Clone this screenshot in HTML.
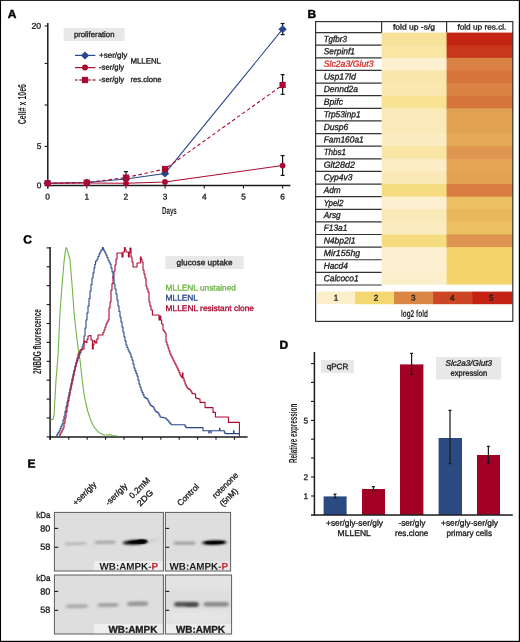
<!DOCTYPE html>
<html lang="en">
<head>
<meta charset="utf-8">
<title>Figure</title>
<style>
html,body{margin:0;padding:0;background:#fff;}
body{width:520px;height:642px;overflow:hidden;}
svg{display:block;font-family:'Liberation Sans', sans-serif;fill:#1c1c1c;}
svg text{font-family:'Liberation Sans', sans-serif;}
svg text.cn{stroke:#1c1c1c;stroke-width:0px;}
svg text.pl{stroke:#000;stroke-width:0.45px;stroke-linejoin:round;}
</style>
</head>
<body>
<svg width="520" height="642" viewBox="0 0 520 642">
<rect x="0" y="0" width="520" height="642" fill="#ffffff" />
<rect x="0" y="0" width="520" height="0.85" fill="#000" />
<rect x="0" y="0" width="1.05" height="642" fill="#000" />
<rect x="518.8" y="0" width="1.2" height="642" fill="#000" />
<rect x="0" y="640.8" width="520" height="1.2" fill="#000" />
<text x="7.7" y="18.1" font-size="11.8" fill="#000" font-weight="bold" textLength="8.66" lengthAdjust="spacingAndGlyphs" transform="rotate(0.03 7.7 18.1)" class="pl">A</text>
<text x="307.5" y="18.1" font-size="11.8" fill="#000" font-weight="bold" textLength="8.66" lengthAdjust="spacingAndGlyphs" transform="rotate(0.03 307.5 18.1)" class="pl">B</text>
<text x="23.3" y="243.6" font-size="11.8" fill="#000" font-weight="bold" textLength="8.66" lengthAdjust="spacingAndGlyphs" transform="rotate(0.03 23.3 243.6)" class="pl">C</text>
<text x="279.4" y="348.8" font-size="11.8" fill="#000" font-weight="bold" textLength="8.66" lengthAdjust="spacingAndGlyphs" transform="rotate(0.03 279.4 348.8)" class="pl">D</text>
<text x="27.6" y="467.5" font-size="11.8" fill="#000" font-weight="bold" textLength="8.0" lengthAdjust="spacingAndGlyphs" transform="rotate(0.03 27.6 467.5)" class="pl">E</text>
<g id="panelA">
<line x1="47.800000000000004" y1="23" x2="47.800000000000004" y2="188.8" stroke="#1a1a1a" stroke-width="1.5" />
<line x1="47.0" y1="185.6" x2="290.4" y2="185.6" stroke="#1a1a1a" stroke-width="1.5" />
<line x1="44.6" y1="26" x2="47.6" y2="26" stroke="#1a1a1a" stroke-width="1.1" />
<line x1="44.6" y1="63.4" x2="47.6" y2="63.4" stroke="#1a1a1a" stroke-width="1.1" />
<line x1="44.6" y1="105" x2="47.6" y2="105" stroke="#1a1a1a" stroke-width="1.1" />
<line x1="44.6" y1="146.4" x2="47.6" y2="146.4" stroke="#1a1a1a" stroke-width="1.1" />
<text x="47.6" y="199.4" font-size="8.3" text-anchor="middle" transform="rotate(0.03 47.6 199.4)" stroke="#1c1c1c" stroke-width="0.32">0</text>
<line x1="86.77" y1="185.6" x2="86.77" y2="188.6" stroke="#1a1a1a" stroke-width="1.1" />
<text x="86.8" y="199.4" font-size="8.3" text-anchor="middle" transform="rotate(0.03 86.8 199.4)" stroke="#1c1c1c" stroke-width="0.32">1</text>
<line x1="125.94" y1="185.6" x2="125.94" y2="188.6" stroke="#1a1a1a" stroke-width="1.1" />
<text x="125.9" y="199.4" font-size="8.3" text-anchor="middle" transform="rotate(0.03 125.9 199.4)" stroke="#1c1c1c" stroke-width="0.32">2</text>
<line x1="165.11" y1="185.6" x2="165.11" y2="188.6" stroke="#1a1a1a" stroke-width="1.1" />
<text x="165.1" y="199.4" font-size="8.3" text-anchor="middle" transform="rotate(0.03 165.1 199.4)" stroke="#1c1c1c" stroke-width="0.32">3</text>
<line x1="204.28" y1="185.6" x2="204.28" y2="188.6" stroke="#1a1a1a" stroke-width="1.1" />
<text x="204.3" y="199.4" font-size="8.3" text-anchor="middle" transform="rotate(0.03 204.3 199.4)" stroke="#1c1c1c" stroke-width="0.32">4</text>
<line x1="243.45" y1="185.6" x2="243.45" y2="188.6" stroke="#1a1a1a" stroke-width="1.1" />
<text x="243.5" y="199.4" font-size="8.3" text-anchor="middle" transform="rotate(0.03 243.5 199.4)" stroke="#1c1c1c" stroke-width="0.32">5</text>
<line x1="282.62" y1="185.6" x2="282.62" y2="188.6" stroke="#1a1a1a" stroke-width="1.1" />
<text x="282.6" y="199.4" font-size="8.3" text-anchor="middle" transform="rotate(0.03 282.6 199.4)" stroke="#1c1c1c" stroke-width="0.32">6</text>
<text x="41.2" y="28.7" font-size="8.3" text-anchor="end" textLength="9.7" lengthAdjust="spacingAndGlyphs" transform="rotate(0.03 41.2 28.7)" stroke="#1c1c1c" stroke-width="0.32">20</text>
<text x="41.4" y="149.1" font-size="8.3" text-anchor="end" transform="rotate(0.03 41.4 149.1)" stroke="#1c1c1c" stroke-width="0.32">5</text>
<text x="41.4" y="188.2" font-size="8.3" text-anchor="end" transform="rotate(0.03 41.4 188.2)" stroke="#1c1c1c" stroke-width="0.32">0</text>
<text x="25.9" y="104.1" font-size="10.1" text-anchor="middle" font-weight="bold" textLength="40.2" lengthAdjust="spacingAndGlyphs" transform="rotate(-90 25.9 104.1)" class="cn">Cell# x 10e6</text>
<text x="169.4" y="213.9" font-size="10.1" text-anchor="middle" font-weight="bold" textLength="14.9" lengthAdjust="spacingAndGlyphs" transform="rotate(0.03 169.4 213.9)" class="cn">Days</text>
<rect x="63.6" y="28" width="61" height="13" fill="#e8e8e8" />
<text x="94.2" y="37.0" font-size="7.8" text-anchor="middle" textLength="40.6" lengthAdjust="spacingAndGlyphs" transform="rotate(0.03 94.2 37.0)" stroke="#1c1c1c" stroke-width="0.32">proliferation</text>
<line x1="75" y1="55.4" x2="95.4" y2="55.4" stroke="#27478a" stroke-width="1.2" />
<path d="M85 51.4 L89.2 55.4 L85 59.4 L80.8 55.4Z" fill="#27478a"/>
<line x1="75" y1="67.6" x2="95.4" y2="67.6" stroke="#ab0a30" stroke-width="1.2" />
<circle cx="85" cy="67.6" r="3" fill="#ab0a30"/>
<line x1="75" y1="80" x2="77.7" y2="80" stroke="#ab0a30" stroke-width="1.2" />
<line x1="79.2" y1="80" x2="82.2" y2="80" stroke="#ab0a30" stroke-width="1.2" />
<line x1="88" y1="80" x2="90.8" y2="80" stroke="#ab0a30" stroke-width="1.2" />
<line x1="92.3" y1="80" x2="95.6" y2="80" stroke="#ab0a30" stroke-width="1.2" />
<rect x="81.9" y="76.9" width="6.2" height="6.2" fill="#ab0a30" />
<text x="99" y="57.7" font-size="7.8" textLength="28.4" lengthAdjust="spacingAndGlyphs" transform="rotate(0.03 99 57.7)" stroke="#1c1c1c" stroke-width="0.32">+ser/gly</text>
<text x="99" y="69.8" font-size="7.8" textLength="25.2" lengthAdjust="spacingAndGlyphs" transform="rotate(0.03 99 69.8)" stroke="#1c1c1c" stroke-width="0.32">-ser/gly</text>
<text x="99" y="82.1" font-size="7.8" textLength="25.2" lengthAdjust="spacingAndGlyphs" transform="rotate(0.03 99 82.1)" stroke="#1c1c1c" stroke-width="0.32">-ser/gly</text>
<text x="130.4" y="63.5" font-size="7.8" textLength="30.6" lengthAdjust="spacingAndGlyphs" transform="rotate(0.03 130.4 63.5)" stroke="#1c1c1c" stroke-width="0.32">MLLENL</text>
<text x="130.4" y="82.1" font-size="7.8" textLength="31" lengthAdjust="spacingAndGlyphs" transform="rotate(0.03 130.4 82.1)" stroke="#1c1c1c" stroke-width="0.32">res.clone</text>
<line x1="126" y1="171.6" x2="126" y2="177.6" stroke="#1a1a1a" stroke-width="1.25" />
<line x1="124.0" y1="171.6" x2="128.0" y2="171.6" stroke="#1a1a1a" stroke-width="1.25" />
<line x1="124.0" y1="177.6" x2="128.0" y2="177.6" stroke="#1a1a1a" stroke-width="1.25" />
<line x1="282.6" y1="23.5" x2="282.6" y2="34.6" stroke="#1a1a1a" stroke-width="1.25" />
<line x1="280.6" y1="23.5" x2="284.6" y2="23.5" stroke="#1a1a1a" stroke-width="1.25" />
<line x1="280.6" y1="34.6" x2="284.6" y2="34.6" stroke="#1a1a1a" stroke-width="1.25" />
<line x1="282.6" y1="74.6" x2="282.6" y2="94.4" stroke="#1a1a1a" stroke-width="1.25" />
<line x1="280.6" y1="74.6" x2="284.6" y2="74.6" stroke="#1a1a1a" stroke-width="1.25" />
<line x1="280.6" y1="94.4" x2="284.6" y2="94.4" stroke="#1a1a1a" stroke-width="1.25" />
<line x1="282.6" y1="155.6" x2="282.6" y2="175.4" stroke="#1a1a1a" stroke-width="1.25" />
<line x1="280.6" y1="155.6" x2="284.6" y2="155.6" stroke="#1a1a1a" stroke-width="1.25" />
<line x1="280.6" y1="175.4" x2="284.6" y2="175.4" stroke="#1a1a1a" stroke-width="1.25" />
<polyline points="47.6,183.2 86.8,182.6 126,179 165,173.4 282.6,29.2" fill="none" stroke="#27478a" stroke-width="1.05"/>
<polyline points="47.6,183.2 86.8,182.9 126,183.3 165,182 282.6,165.6" fill="none" stroke="#ab0a30" stroke-width="1.05"/>
<polyline points="47.6,183.2 86.8,182.6 126,177.6 165,169 282.6,85" fill="none" stroke="#ab0a30" stroke-width="1.1" stroke-dasharray="3.5 2.6"/>
<path d="M47.6 179.2 L51.8 183.2 L47.6 187.2 L43.4 183.2Z" fill="#27478a"/>
<path d="M86.8 178.6 L91.0 182.6 L86.8 186.6 L82.6 182.6Z" fill="#27478a"/>
<path d="M126 175.0 L130.2 179 L126 183.0 L121.8 179Z" fill="#27478a"/>
<path d="M165 169.4 L169.2 173.4 L165 177.4 L160.8 173.4Z" fill="#27478a"/>
<path d="M282.6 25.2 L286.8 29.2 L282.6 33.2 L278.4 29.2Z" fill="#27478a"/>
<circle cx="47.6" cy="183.2" r="2.9" fill="#ab0a30"/>
<circle cx="86.8" cy="182.9" r="2.9" fill="#ab0a30"/>
<circle cx="126" cy="183.3" r="2.9" fill="#ab0a30"/>
<circle cx="165" cy="182" r="2.9" fill="#ab0a30"/>
<circle cx="282.6" cy="165.6" r="2.9" fill="#ab0a30"/>
<rect x="44.5" y="180.1" width="6.2" height="6.2" fill="#ab0a30" />
<rect x="83.7" y="179.5" width="6.2" height="6.2" fill="#ab0a30" />
<rect x="122.9" y="174.5" width="6.2" height="6.2" fill="#ab0a30" />
<rect x="161.9" y="165.9" width="6.2" height="6.2" fill="#ab0a30" />
<rect x="279.5" y="81.9" width="6.2" height="6.2" fill="#ab0a30" />
</g>
<g id="panelB">
<rect x="381.6" y="32.6" width="65.5" height="13.62" fill="#f8e29a" />
<rect x="381.6" y="45.22" width="65.5" height="13.62" fill="#f9e5a4" />
<rect x="381.6" y="57.84" width="65.5" height="13.62" fill="#fcf0d0" />
<rect x="381.6" y="70.46" width="65.5" height="13.62" fill="#f9e6aa" />
<rect x="381.6" y="83.08" width="65.5" height="13.62" fill="#fae8b0" />
<rect x="381.6" y="95.7" width="65.5" height="13.62" fill="#f8e294" />
<rect x="381.6" y="108.32" width="65.5" height="13.62" fill="#faeaba" />
<rect x="381.6" y="120.94" width="65.5" height="13.62" fill="#faeaba" />
<rect x="381.6" y="133.56" width="65.5" height="13.62" fill="#fbecc2" />
<rect x="381.6" y="146.18" width="65.5" height="13.62" fill="#f9e5a4" />
<rect x="381.6" y="158.8" width="65.5" height="13.62" fill="#fbedc6" />
<rect x="381.6" y="171.42" width="65.5" height="13.62" fill="#fae9b6" />
<rect x="381.6" y="184.04" width="65.5" height="13.62" fill="#f6dc80" />
<rect x="381.6" y="196.66" width="65.5" height="13.62" fill="#fcf0d0" />
<rect x="381.6" y="209.28" width="65.5" height="13.62" fill="#fae9b8" />
<rect x="381.6" y="221.9" width="65.5" height="13.62" fill="#fbecc0" />
<rect x="381.6" y="234.52" width="65.5" height="13.62" fill="#f6dc80" />
<rect x="381.6" y="247.14" width="65.5" height="13.62" fill="#fcf0d0" />
<rect x="381.6" y="259.76" width="65.5" height="13.62" fill="#fcf0d0" />
<rect x="381.6" y="272.38" width="65.5" height="12.22" fill="#fcefcc" />
<rect x="446.6" y="32.6" width="66.2" height="13.62" fill="#c42414" />
<rect x="446.6" y="45.22" width="66.2" height="13.62" fill="#c8371c" />
<rect x="446.6" y="57.84" width="66.2" height="13.62" fill="#da8244" />
<rect x="446.6" y="70.46" width="66.2" height="13.62" fill="#d6743c" />
<rect x="446.6" y="83.08" width="66.2" height="13.62" fill="#da8444" />
<rect x="446.6" y="95.7" width="66.2" height="13.62" fill="#d6753c" />
<rect x="446.6" y="108.32" width="66.2" height="13.62" fill="#e2a254" />
<rect x="446.6" y="120.94" width="66.2" height="13.62" fill="#e2a254" />
<rect x="446.6" y="133.56" width="66.2" height="13.62" fill="#e4aa58" />
<rect x="446.6" y="146.18" width="66.2" height="13.62" fill="#de9650" />
<rect x="446.6" y="158.8" width="66.2" height="13.62" fill="#e4a656" />
<rect x="446.6" y="171.42" width="66.2" height="13.62" fill="#e2a254" />
<rect x="446.6" y="184.04" width="66.2" height="13.62" fill="#d87e42" />
<rect x="446.6" y="196.66" width="66.2" height="13.62" fill="#ecc060" />
<rect x="446.6" y="209.28" width="66.2" height="13.62" fill="#e8b85c" />
<rect x="446.6" y="221.9" width="66.2" height="13.62" fill="#ecc060" />
<rect x="446.6" y="234.52" width="66.2" height="13.62" fill="#de9450" />
<rect x="446.6" y="247.14" width="66.2" height="13.62" fill="#f4d46a" />
<rect x="446.6" y="259.76" width="66.2" height="13.62" fill="#f4d46a" />
<rect x="446.6" y="272.38" width="66.2" height="12.22" fill="#f4d56c" />
<rect x="317" y="291.6" width="38.8" height="12.6" fill="#fbeec8" />
<text x="336" y="300.4" font-size="8.2" text-anchor="middle" transform="rotate(0.03 336 300.4)" stroke="#1c1c1c" stroke-width="0.32">1</text>
<rect x="355" y="291.6" width="39.8" height="12.6" fill="#f5d770" />
<text x="376" y="300.4" font-size="8.2" text-anchor="middle" transform="rotate(0.03 376 300.4)" stroke="#1c1c1c" stroke-width="0.32">2</text>
<rect x="394" y="291.6" width="40.0" height="12.6" fill="#da8746" />
<text x="413.4" y="300.4" font-size="8.2" text-anchor="middle" transform="rotate(0.03 413.4 300.4)" stroke="#1c1c1c" stroke-width="0.32">3</text>
<rect x="433.2" y="291.6" width="40.0" height="12.6" fill="#cc4524" />
<text x="452.3" y="300.4" font-size="8.2" text-anchor="middle" transform="rotate(0.03 452.3 300.4)" stroke="#1c1c1c" stroke-width="0.32">4</text>
<rect x="472.4" y="291.6" width="40.0" height="12.6" fill="#c42314" />
<text x="491.4" y="300.4" font-size="8.2" text-anchor="middle" transform="rotate(0.03 491.4 300.4)" stroke="#1c1c1c" stroke-width="0.32">5</text>
<text x="414.4" y="317.0" font-size="10.1" text-anchor="middle" font-weight="bold" textLength="27" lengthAdjust="spacingAndGlyphs" transform="rotate(0.03 414.4 317.0)" class="cn">log2 fold</text>
<rect x="315.6" y="21.6" width="197.2" height="299.8" fill="none" stroke="#333333" stroke-width="1.2"/>
<line x1="315.6" y1="32.6" x2="381.6" y2="32.6" stroke="#333333" stroke-width="1.2" />
<line x1="381.6" y1="21.6" x2="381.6" y2="32.6" stroke="#333333" stroke-width="1.2" />
<line x1="446.6" y1="21.6" x2="446.6" y2="32.6" stroke="#333333" stroke-width="1.2" />
<line x1="315.6" y1="45.22" x2="381.6" y2="45.22" stroke="#333333" stroke-width="1.2" />
<line x1="315.6" y1="57.84" x2="381.6" y2="57.84" stroke="#333333" stroke-width="1.2" />
<line x1="315.6" y1="70.46" x2="381.6" y2="70.46" stroke="#333333" stroke-width="1.2" />
<line x1="315.6" y1="83.08" x2="381.6" y2="83.08" stroke="#333333" stroke-width="1.2" />
<line x1="315.6" y1="95.7" x2="381.6" y2="95.7" stroke="#333333" stroke-width="1.2" />
<line x1="315.6" y1="108.32" x2="381.6" y2="108.32" stroke="#333333" stroke-width="1.2" />
<line x1="315.6" y1="120.94" x2="381.6" y2="120.94" stroke="#333333" stroke-width="1.2" />
<line x1="315.6" y1="133.56" x2="381.6" y2="133.56" stroke="#333333" stroke-width="1.2" />
<line x1="315.6" y1="146.18" x2="381.6" y2="146.18" stroke="#333333" stroke-width="1.2" />
<line x1="315.6" y1="158.8" x2="381.6" y2="158.8" stroke="#333333" stroke-width="1.2" />
<line x1="315.6" y1="171.42" x2="381.6" y2="171.42" stroke="#333333" stroke-width="1.2" />
<line x1="315.6" y1="184.04" x2="381.6" y2="184.04" stroke="#333333" stroke-width="1.2" />
<line x1="315.6" y1="196.66" x2="381.6" y2="196.66" stroke="#333333" stroke-width="1.2" />
<line x1="315.6" y1="209.28" x2="381.6" y2="209.28" stroke="#333333" stroke-width="1.2" />
<line x1="315.6" y1="221.9" x2="381.6" y2="221.9" stroke="#333333" stroke-width="1.2" />
<line x1="315.6" y1="234.52" x2="381.6" y2="234.52" stroke="#333333" stroke-width="1.2" />
<line x1="315.6" y1="247.14" x2="381.6" y2="247.14" stroke="#333333" stroke-width="1.2" />
<line x1="315.6" y1="259.76" x2="381.6" y2="259.76" stroke="#333333" stroke-width="1.2" />
<line x1="315.6" y1="272.38" x2="381.6" y2="272.38" stroke="#333333" stroke-width="1.2" />
<line x1="315.6" y1="285.0" x2="381.6" y2="285.0" stroke="#333333" stroke-width="1.2" />
<text x="323.7" y="41.55" font-size="8.9" font-style="italic" textLength="23.2" lengthAdjust="spacingAndGlyphs" transform="rotate(0.03 323.7 41.55)" stroke="#1c1c1c" stroke-width="0.32">Tgfbr3</text>
<text x="323.7" y="54.17" font-size="8.9" font-style="italic" textLength="31.2" lengthAdjust="spacingAndGlyphs" transform="rotate(0.03 323.7 54.17)" stroke="#1c1c1c" stroke-width="0.32">Serpinf1</text>
<text x="323.7" y="66.79" font-size="8.9" fill="#d4312c" font-style="italic" textLength="49.8" lengthAdjust="spacingAndGlyphs" transform="rotate(0.03 323.7 66.79)" stroke="#d4312c" stroke-width="0.32">Slc2a3/Glut3</text>
<text x="323.7" y="79.41" font-size="8.9" font-style="italic" textLength="32.2" lengthAdjust="spacingAndGlyphs" transform="rotate(0.03 323.7 79.41)" stroke="#1c1c1c" stroke-width="0.32">Usp17ld</text>
<text x="323.7" y="92.03" font-size="8.9" font-style="italic" textLength="34.3" lengthAdjust="spacingAndGlyphs" transform="rotate(0.03 323.7 92.03)" stroke="#1c1c1c" stroke-width="0.32">Dennd2a</text>
<text x="323.7" y="104.65" font-size="8.9" font-style="italic" textLength="19.3" lengthAdjust="spacingAndGlyphs" transform="rotate(0.03 323.7 104.65)" stroke="#1c1c1c" stroke-width="0.32">Bpifc</text>
<text x="323.7" y="117.27" font-size="8.9" font-style="italic" textLength="36.9" lengthAdjust="spacingAndGlyphs" transform="rotate(0.03 323.7 117.27)" stroke="#1c1c1c" stroke-width="0.32">Trp53inp1</text>
<text x="323.7" y="129.89" font-size="8.9" font-style="italic" textLength="24.5" lengthAdjust="spacingAndGlyphs" transform="rotate(0.03 323.7 129.89)" stroke="#1c1c1c" stroke-width="0.32">Dusp6</text>
<text x="323.7" y="142.51" font-size="8.9" font-style="italic" textLength="40" lengthAdjust="spacingAndGlyphs" transform="rotate(0.03 323.7 142.51)" stroke="#1c1c1c" stroke-width="0.32">Fam160a1</text>
<text x="323.7" y="155.13" font-size="8.9" font-style="italic" textLength="22.4" lengthAdjust="spacingAndGlyphs" transform="rotate(0.03 323.7 155.13)" stroke="#1c1c1c" stroke-width="0.32">Thbs1</text>
<text x="323.7" y="167.75" font-size="8.9" font-style="italic" textLength="31.2" lengthAdjust="spacingAndGlyphs" transform="rotate(0.03 323.7 167.75)" stroke="#1c1c1c" stroke-width="0.32">Glt28d2</text>
<text x="323.7" y="180.37" font-size="8.9" font-style="italic" textLength="28.7" lengthAdjust="spacingAndGlyphs" transform="rotate(0.03 323.7 180.37)" stroke="#1c1c1c" stroke-width="0.32">Cyp4v3</text>
<text x="323.7" y="192.99" font-size="8.9" font-style="italic" textLength="17" lengthAdjust="spacingAndGlyphs" transform="rotate(0.03 323.7 192.99)" stroke="#1c1c1c" stroke-width="0.32">Adm</text>
<text x="323.7" y="205.61" font-size="8.9" font-style="italic" textLength="19.8" lengthAdjust="spacingAndGlyphs" transform="rotate(0.03 323.7 205.61)" stroke="#1c1c1c" stroke-width="0.32">Ypel2</text>
<text x="323.7" y="218.23" font-size="8.9" font-style="italic" textLength="17" lengthAdjust="spacingAndGlyphs" transform="rotate(0.03 323.7 218.23)" stroke="#1c1c1c" stroke-width="0.32">Arsg</text>
<text x="323.7" y="230.85" font-size="8.9" font-style="italic" textLength="23.7" lengthAdjust="spacingAndGlyphs" transform="rotate(0.03 323.7 230.85)" stroke="#1c1c1c" stroke-width="0.32">F13a1</text>
<text x="323.7" y="243.47" font-size="8.9" font-style="italic" textLength="31.8" lengthAdjust="spacingAndGlyphs" transform="rotate(0.03 323.7 243.47)" stroke="#1c1c1c" stroke-width="0.32">N4bp2l1</text>
<text x="323.7" y="256.09" font-size="8.9" font-style="italic" textLength="36.4" lengthAdjust="spacingAndGlyphs" transform="rotate(0.03 323.7 256.09)" stroke="#1c1c1c" stroke-width="0.32">Mir155hg</text>
<text x="323.7" y="268.71" font-size="8.9" font-style="italic" textLength="24.1" lengthAdjust="spacingAndGlyphs" transform="rotate(0.03 323.7 268.71)" stroke="#1c1c1c" stroke-width="0.32">Hacd4</text>
<text x="323.7" y="281.33" font-size="8.9" font-style="italic" textLength="34.9" lengthAdjust="spacingAndGlyphs" transform="rotate(0.03 323.7 281.33)" stroke="#1c1c1c" stroke-width="0.32">Calcoco1</text>
<text x="393" y="29.6" font-size="7.6" textLength="42" lengthAdjust="spacingAndGlyphs" transform="rotate(0.03 393 29.6)" stroke="#1c1c1c" stroke-width="0.32">fold up -s/g</text>
<text x="457.4" y="29.6" font-size="7.6" textLength="49" lengthAdjust="spacingAndGlyphs" transform="rotate(0.03 457.4 29.6)" stroke="#1c1c1c" stroke-width="0.32">fold up res.cl.</text>
</g>
<g id="panelC">
<line x1="50.1" y1="247.1" x2="50.1" y2="439.7" stroke="#1a1a1a" stroke-width="1.5" />
<line x1="49.5" y1="436.9" x2="247.6" y2="436.9" stroke="#1a1a1a" stroke-width="1.5" />
<line x1="46.6" y1="247.9" x2="50.1" y2="247.9" stroke="#1a1a1a" stroke-width="1.1" />
<line x1="46.6" y1="266.8" x2="50.1" y2="266.8" stroke="#1a1a1a" stroke-width="1.1" />
<line x1="46.6" y1="285.7" x2="50.1" y2="285.7" stroke="#1a1a1a" stroke-width="1.1" />
<line x1="46.6" y1="304.6" x2="50.1" y2="304.6" stroke="#1a1a1a" stroke-width="1.1" />
<line x1="46.6" y1="323.5" x2="50.1" y2="323.5" stroke="#1a1a1a" stroke-width="1.1" />
<line x1="46.6" y1="342.4" x2="50.1" y2="342.4" stroke="#1a1a1a" stroke-width="1.1" />
<line x1="46.6" y1="361.3" x2="50.1" y2="361.3" stroke="#1a1a1a" stroke-width="1.1" />
<line x1="46.6" y1="380.2" x2="50.1" y2="380.2" stroke="#1a1a1a" stroke-width="1.1" />
<line x1="46.6" y1="399.1" x2="50.1" y2="399.1" stroke="#1a1a1a" stroke-width="1.1" />
<line x1="46.6" y1="418.0" x2="50.1" y2="418.0" stroke="#1a1a1a" stroke-width="1.1" />
<line x1="50.1" y1="436.9" x2="50.1" y2="439.7" stroke="#1a1a1a" stroke-width="1.1" />
<line x1="68.8" y1="436.9" x2="68.8" y2="439.7" stroke="#1a1a1a" stroke-width="1.1" />
<line x1="87.2" y1="436.9" x2="87.2" y2="439.7" stroke="#1a1a1a" stroke-width="1.1" />
<line x1="105.6" y1="436.9" x2="105.6" y2="439.7" stroke="#1a1a1a" stroke-width="1.1" />
<line x1="124.0" y1="436.9" x2="124.0" y2="439.7" stroke="#1a1a1a" stroke-width="1.1" />
<line x1="142.4" y1="436.9" x2="142.4" y2="439.7" stroke="#1a1a1a" stroke-width="1.1" />
<line x1="160.8" y1="436.9" x2="160.8" y2="439.7" stroke="#1a1a1a" stroke-width="1.1" />
<line x1="179.2" y1="436.9" x2="179.2" y2="439.7" stroke="#1a1a1a" stroke-width="1.1" />
<line x1="197.6" y1="436.9" x2="197.6" y2="439.7" stroke="#1a1a1a" stroke-width="1.1" />
<line x1="216.0" y1="436.9" x2="216.0" y2="439.7" stroke="#1a1a1a" stroke-width="1.1" />
<line x1="234.4" y1="436.9" x2="234.4" y2="439.7" stroke="#1a1a1a" stroke-width="1.1" />
<line x1="46.6" y1="436.9" x2="50.1" y2="436.9" stroke="#1a1a1a" stroke-width="1.1" />
<text x="41" y="341.5" font-size="10.1" text-anchor="middle" font-weight="bold" textLength="65" lengthAdjust="spacingAndGlyphs" transform="rotate(-90 41 341.5)" class="cn">2NBDG fluorescence</text>
<polyline points="50.4,419.4 53,419.4 54,416 56,380 58,356 60,312 62,286 64,262 65.6,249 66.4,247.6 68,252 70,260 72,284 74,312 76,331 78,347 80,360 82,378 84,394 86,404 88,412 90,418 92,423 94,427 96,429.4 98,431.6 100,433 102,434 104,435 108,435 110,434.4 112,435.5 117,435.8" fill="none" stroke="#70b546" stroke-width="1.1" stroke-linejoin="round"/>
<polyline points="56,436 57.0,436 57.0,434.33 58.0,434.33 58.0,432.67 59.0,432.67 59.0,431.0 60.0,431.0 60.0,428.67 61.0,428.67 61.0,426.33 62.0,426.33 62.0,424.0 63.0,424.0 63.0,420.0 64.0,420.0 64.0,416.0 65.0,416.0 65.0,411.33 66.0,411.33 66.0,406.67 67.0,406.67 67.0,402.0 68.0,402.0 68.0,397.33 69.0,397.33 69.0,392.67 70.0,392.67 70.0,388.0 71.0,388.0 71.0,383.33 72.0,383.33 72.0,378.67 73.0,378.67 73.0,374.0 74.0,374.0 74.0,370.33 75.0,370.33 75.0,366.67 76.0,366.67 76.0,363.0 77.0,363.0 77.0,360.33 78.0,360.33 78.0,357.67 79.0,357.67 79.0,355.0 80.0,355.0 80.0,352.5 81.0,352.5 81.0,350.0 82.0,350.0 82.0,347.0 83.0,347.0 83.0,344.0 84.0,344.0 84.0,336.0 85.0,336.0 85.0,328.0 86.0,328.0 86.0,320.0 87.0,320.0 87.0,313.0 88.0,313.0 88.0,306.0 89.0,306.0 89.0,298.5 90.0,298.5 90.0,291.0 91.0,291.0 91.0,284.5 92.0,284.5 92.0,278.0 93.0,278.0 93.0,273.0 94.0,273.0 94.0,268.0 94.8,268.0 94.8,264.5 95.6,264.5 95.6,261.0 97.0,261.0 97.0,259.0 98.0,259.0 98.0,256.5 99.0,256.5 99.0,254.0 100.0,254.0 100.0,252.0 101.0,252.0 101.0,250.0 102.4,250.0 102.4,247.6 103.2,247.6 103.2,249.3 104.0,249.3 104.0,251.0 105.0,251.0 105.0,253.0 106.0,253.0 106.0,255.0 107.0,255.0 107.0,257.5 108.0,257.5 108.0,260.0 109.0,260.0 109.0,262.0 110.0,262.0 110.0,264.0 111.0,264.0 111.0,268.0 112.0,268.0 112.0,272.0 113.0,272.0 113.0,278.0 114.0,278.0 114.0,284.0 115.0,284.0 115.0,289.0 116.0,289.0 116.0,294.0 117.0,294.0 117.0,300.0 118.0,300.0 118.0,306.0 119.0,306.0 119.0,311.5 120.0,311.5 120.0,317.0 121.0,317.0 121.0,322.0 122.0,322.0 122.0,327.0 123.0,327.0 123.0,332.0 124.0,332.0 124.0,337.0 125.0,337.0 125.0,341.0 126.0,341.0 126.0,345.0 127.0,345.0 127.0,347.5 128.0,347.5 128.0,350.0 129.0,350.0 129.0,352.0 130.0,352.0 130.0,354.0 131.0,354.0 131.0,357.0 132.0,357.0 132.0,360.0 133.0,360.0 133.0,364.0 134.0,364.0 134.0,368.0 135.0,368.0 135.0,370.67 136.0,370.67 136.0,373.33 137.0,373.33 137.0,376.0 138.0,376.0 138.0,380.0 139.0,380.0 139.0,384.0 140.0,384.0 140.0,387.0 141.0,387.0 141.0,390.0 142.0,390.0 142.0,392.33 143.0,392.33 143.0,394.67 144.0,394.67 144.0,397.0 145.0,397.0 145.0,397.67 146.0,397.67 146.0,398.33 147.0,398.33 147.0,399.0 148.0,399.0 148.0,401.0 149.0,401.0 149.0,403.0 150.0,403.0 150.0,405.0 151.0,405.0 151.0,405.67 152.0,405.67 152.0,406.33 153.0,406.33 153.0,407.0 154.0,407.0 154.0,409.0 155.0,409.0 155.0,411.0 156.0,411.0 156.0,411.67 157.0,411.67 157.0,412.33 158.0,412.33 158.0,413.0 159.0,413.0 159.0,415.0 160.0,415.0 160.0,417.0 161.0,417.0 161.0,417.2 162.0,417.2 162.0,417.4 163.0,417.4 163.0,417.6 164.0,417.6 164.0,417.8 165.0,417.8 165.0,418.0 166.0,418.0 166.0,419.0 167.0,419.0 167.0,420.0 168.0,420.0 168.0,421.0 169.0,421.0 169.0,422.23 170.0,422.23 170.0,423.47 171.0,423.47 171.0,424.7 172.0,424.7 173.0,424.7 174.0,424.7 175.0,424.7 176.0,424.7 177.0,424.7 178.0,424.7 179.0,424.7 180.0,424.7 181.0,424.7 182.0,424.7 183.0,424.7 184.0,424.7 185.0,424.7 185.0,426.15 186.0,426.15 186.0,427.6 186.97,427.6 187.95,427.6 188.93,427.6 189.9,427.6 190.88,427.6 191.85,427.6 192.82,427.6 193.8,427.6 194.78,427.6 195.75,427.6 196.72,427.6 197.7,427.6 198.67,427.6 199.65,427.6 200.62,427.6 201.6,427.6 203.0,427.6 203.0,430.7 203.92,430.7 204.83,430.7 205.75,430.7 206.67,430.7 207.58,430.7 208.5,430.7 208.8,430.7 208.8,433.0 209.1,433.0 209.1,430.7 209.85,430.7 210.6,430.7 210.9,430.7 210.9,433.0 211.2,433.0 211.2,430.7 212.17,430.7 213.15,430.7 214.12,430.7 215.1,430.7 216.07,430.7 217.05,430.7 218.03,430.7 219.0,430.7 219.5,430.7 219.5,428.4 220.0,428.4 220.0,430.7 220.88,430.7 221.75,430.7 222.62,430.7 223.5,430.7 224.25,430.7 224.25,432.15 225.0,432.15 225.0,433.6 226.0,433.6 227.0,433.6 228.0,433.6 229.0,433.6 230.0,433.6 231.0,433.6 232.0,433.6 233.0,433.6 233.5,433.6 233.5,430.8 234.0,430.8 234.0,433.6 235.08,433.6 236.16,433.6 237.24,433.6 238.32,433.6 239.4,433.6" fill="none" stroke="#27478a" stroke-width="1.1" stroke-linejoin="round"/>
<polyline points="59,436 60.0,436 60.0,434.0 61.0,434.0 61.0,432.0 62.0,432.0 62.0,430.0 63.0,430.0 63.0,428.0 64.0,428.0 64.0,423.0 65.0,423.0 65.0,418.0 66.0,418.0 66.0,412.0 67.0,412.0 67.0,406.0 68.0,406.0 68.0,400.67 69.0,400.67 69.0,395.33 70.0,395.33 70.0,390.0 71.0,390.0 71.0,385.33 72.0,385.33 72.0,380.67 73.0,380.67 73.0,376.0 74.0,376.0 74.0,371.0 75.0,371.0 75.0,366.0 76.0,366.0 76.0,362.0 77.0,362.0 77.0,358.0 78.0,358.0 78.0,354.0 79.0,354.0 79.0,352.0 80.0,352.0 80.0,350.0 81.0,350.0 81.0,349.67 82.0,349.67 82.0,349.33 83.0,349.33 83.0,349.0 84.0,349.0 84.0,341.0 85.0,341.0 85.0,341.75 86.0,341.75 86.0,342.5 87.0,342.5 87.0,339.25 88.0,339.25 88.0,336.0 89.0,336.0 89.0,335.8 90.0,335.8 90.0,335.6 91.0,335.6 91.0,340.0 92.4,340.0 92.4,349.0 93.2,349.0 93.2,344.75 94.0,344.75 94.0,340.5 94.8,340.5 94.8,341.75 95.6,341.75 95.6,343.0 96.8,343.0 96.8,339.0 98.0,339.0 98.0,335.0 99.0,335.0 100.0,335.0 101.0,335.0 102.0,335.0 103.0,335.0 103.0,332.5 104.0,332.5 104.0,330.0 105.0,330.0 105.0,327.0 106.0,327.0 106.0,324.0 107.0,324.0 107.0,322.0 108.0,322.0 108.0,320.0 109.0,320.0 109.0,308.0 110.0,308.0 110.0,302.0 111.0,302.0 111.0,290.0 112.0,290.0 112.0,283.5 113.0,283.5 113.0,277.0 114.0,277.0 114.0,271.0 115.0,271.0 115.0,265.0 116.0,265.0 116.0,259.0 117.0,259.0 117.0,253.0 118.0,253.0 119.0,253.0 120.0,253.0 121.0,253.0 122.0,253.0 122.0,257.0 123.0,257.0 123.0,252.0 124.4,252.0 124.4,247.6 125.2,247.6 125.2,249.8 126.0,249.8 126.0,252.0 127.0,252.0 128.4,252.0 128.4,257.0 129.2,257.0 129.2,252.5 130.0,252.5 130.0,248.0 131.0,248.0 131.0,257.0 132.0,257.0 132.0,262.0 133.0,262.0 133.0,267.0 134.0,267.0 135.0,267.0 136.0,267.0 137.0,267.0 137.0,263.0 138.0,263.0 139.0,263.0 140.4,263.0 140.4,257.0 141.2,257.0 141.2,259.5 142.0,259.5 142.0,262.0 143.0,262.0 143.0,270.0 144.0,270.0 144.0,274.0 145.0,274.0 145.0,278.0 146.0,278.0 146.0,286.0 147.0,286.0 147.0,289.0 148.0,289.0 148.0,292.0 149.0,292.0 149.0,302.0 150.0,302.0 150.0,306.0 151.0,306.0 151.0,310.0 152.4,310.0 152.4,315.0 153.33,315.0 154.27,315.0 155.2,315.0 156.13,315.0 157.07,315.0 158.0,315.0 159.0,315.0 159.0,320.0 160.0,320.0 160.0,316.0 160.8,316.0 160.8,320.0 161.6,320.0 161.6,324.0 163.0,324.0 163.0,330.0 164.0,330.0 164.0,331.5 165.0,331.5 165.0,333.0 166.0,333.0 166.0,342.0 167.0,342.0 167.0,345.0 168.0,345.0 168.0,348.0 169.0,348.0 169.0,351.0 170.0,351.0 170.0,354.0 171.0,354.0 171.0,356.0 172.0,356.0 172.0,358.0 173.0,358.0 173.0,360.0 174.0,360.0 174.0,362.0 175.0,362.0 175.0,364.0 176.0,364.0 176.0,366.0 177.0,366.0 177.0,368.0 178.0,368.0 178.0,370.33 179.0,370.33 179.0,372.67 180.0,372.67 180.0,375.0 181.0,375.0 181.0,376.5 182.0,376.5 182.0,378.0 182.4,378.0 182.4,373.0 183.0,373.0 183.0,378.0 184.0,378.0 184.0,381.0 185.0,381.0 185.0,384.0 186.0,384.0 186.0,386.0 187.0,386.0 187.0,388.0 188.0,388.0 188.0,388.67 189.0,388.67 189.0,389.33 190.0,389.33 190.0,390.0 191.0,390.0 191.0,391.8 192.0,391.8 192.0,393.6 193.0,393.6 193.0,393.73 194.0,393.73 194.0,393.87 195.0,393.87 195.0,394.0 195.6,394.0 195.6,398.0 196.73,398.0 196.73,398.33 197.87,398.33 197.87,398.67 199.0,398.67 199.0,399.0 200.0,399.0 200.0,402.4 201.1,402.4 202.2,402.4 203.3,402.4 204.4,402.4 205.0,402.4 205.0,407.6 206.0,407.6 207.0,407.6 208.0,407.6 209.0,407.6 210.0,407.6 211.0,407.6 212.0,407.6 213.0,407.6 213.0,412.4 214.0,412.4 215.0,412.4 215.4,412.4 215.4,417.0 216.37,417.0 217.34,417.0 218.31,417.0 219.28,417.0 220.25,417.0 221.22,417.0 222.18,417.0 223.15,417.0 224.12,417.0 225.09,417.0 226.06,417.0 227.03,417.0 228.0,417.0 228.4,417.0 228.4,422.4 229.4,422.4 230.4,422.4 231.4,422.4 232.4,422.4 233.4,422.4 234.4,422.4 235.4,422.4 236.4,422.4 237.4,422.4 238.4,422.4 239.4,422.4 239.4,436.4" fill="none" stroke="#ab0a30" stroke-width="1.1" stroke-linejoin="round"/>
<rect x="165.4" y="256" width="78.2" height="13" fill="#e8e8e8" />
<text x="204.6" y="265.3" font-size="8.2" text-anchor="middle" textLength="56" lengthAdjust="spacingAndGlyphs" transform="rotate(0.03 204.6 265.3)" stroke="#1c1c1c" stroke-width="0.32">glucose uptake</text>
<text x="165.6" y="290.4" font-size="8.2" fill="#70b546" textLength="70.4" lengthAdjust="spacingAndGlyphs" transform="rotate(0.03 165.6 290.4)" stroke="#70b546" stroke-width="0.32">MLLENL unstained</text>
<text x="165.6" y="300.4" font-size="8.2" fill="#27478a" textLength="32.4" lengthAdjust="spacingAndGlyphs" transform="rotate(0.03 165.6 300.4)" stroke="#27478a" stroke-width="0.32">MLLENL</text>
<text x="165.6" y="310.9" font-size="8.2" fill="#ab0a30" textLength="88.4" lengthAdjust="spacingAndGlyphs" transform="rotate(0.03 165.6 310.9)" stroke="#ab0a30" stroke-width="0.32">MLLENL resistant clone</text>
</g>
<g id="panelD">
<rect x="323.6" y="496.4" width="23.0" height="18.5" fill="#2c4a82" />
<rect x="362" y="489" width="23" height="25.9" fill="#a30026" />
<rect x="400" y="364.4" width="23.4" height="150.5" fill="#a30026" />
<rect x="438.6" y="438" width="23.4" height="76.9" fill="#2c4a82" />
<rect x="477" y="455" width="23" height="59.9" fill="#a30026" />
<line x1="314.4" y1="352" x2="314.4" y2="515.5" stroke="#1a1a1a" stroke-width="1.5" />
<line x1="311.0" y1="514.9" x2="512.8" y2="514.9" stroke="#1a1a1a" stroke-width="1.5" />
<line x1="311.0" y1="363.6" x2="314.4" y2="363.6" stroke="#1a1a1a" stroke-width="1.1" />
<line x1="311.0" y1="382.4" x2="314.4" y2="382.4" stroke="#1a1a1a" stroke-width="1.1" />
<line x1="311.0" y1="401.4" x2="314.4" y2="401.4" stroke="#1a1a1a" stroke-width="1.1" />
<line x1="311.0" y1="420.4" x2="314.4" y2="420.4" stroke="#1a1a1a" stroke-width="1.1" />
<line x1="311.0" y1="439.2" x2="314.4" y2="439.2" stroke="#1a1a1a" stroke-width="1.1" />
<line x1="311.0" y1="458" x2="314.4" y2="458" stroke="#1a1a1a" stroke-width="1.1" />
<line x1="311.0" y1="477" x2="314.4" y2="477" stroke="#1a1a1a" stroke-width="1.1" />
<line x1="311.0" y1="496" x2="314.4" y2="496" stroke="#1a1a1a" stroke-width="1.1" />
<text x="308" y="423.4" font-size="8.3" text-anchor="end" transform="rotate(0.03 308 423.4)" stroke="#1c1c1c" stroke-width="0.32">5</text>
<text x="308" y="480.0" font-size="8.3" text-anchor="end" transform="rotate(0.03 308 480.0)" stroke="#1c1c1c" stroke-width="0.32">2</text>
<text x="308" y="499.0" font-size="8.3" text-anchor="end" transform="rotate(0.03 308 499.0)" stroke="#1c1c1c" stroke-width="0.32">1</text>
<text x="297" y="433.4" font-size="10.1" text-anchor="middle" font-weight="bold" textLength="59.4" lengthAdjust="spacingAndGlyphs" transform="rotate(-90 297 433.4)" class="cn">Relative expression</text>
<line x1="335" y1="494.2" x2="335" y2="497.8" stroke="#1a1a1a" stroke-width="1.25" />
<line x1="333.5" y1="494.2" x2="336.5" y2="494.2" stroke="#1a1a1a" stroke-width="1.25" />
<line x1="333.5" y1="497.8" x2="336.5" y2="497.8" stroke="#1a1a1a" stroke-width="1.25" />
<line x1="373.4" y1="486.6" x2="373.4" y2="490.4" stroke="#1a1a1a" stroke-width="1.25" />
<line x1="371.9" y1="486.6" x2="374.9" y2="486.6" stroke="#1a1a1a" stroke-width="1.25" />
<line x1="371.9" y1="490.4" x2="374.9" y2="490.4" stroke="#1a1a1a" stroke-width="1.25" />
<line x1="411.6" y1="353.4" x2="411.6" y2="374.4" stroke="#1a1a1a" stroke-width="1.25" />
<line x1="410.1" y1="353.4" x2="413.1" y2="353.4" stroke="#1a1a1a" stroke-width="1.25" />
<line x1="410.1" y1="374.4" x2="413.1" y2="374.4" stroke="#1a1a1a" stroke-width="1.25" />
<line x1="450" y1="410.4" x2="450" y2="463.6" stroke="#1a1a1a" stroke-width="1.25" />
<line x1="448.5" y1="410.4" x2="451.5" y2="410.4" stroke="#1a1a1a" stroke-width="1.25" />
<line x1="448.5" y1="463.6" x2="451.5" y2="463.6" stroke="#1a1a1a" stroke-width="1.25" />
<line x1="488.4" y1="446.4" x2="488.4" y2="463.4" stroke="#1a1a1a" stroke-width="1.25" />
<line x1="486.9" y1="446.4" x2="489.9" y2="446.4" stroke="#1a1a1a" stroke-width="1.25" />
<line x1="486.9" y1="463.4" x2="489.9" y2="463.4" stroke="#1a1a1a" stroke-width="1.25" />
<rect x="321" y="360" width="33" height="13" fill="#e8e8e8" />
<text x="337.5" y="369.2" font-size="8.0" text-anchor="middle" textLength="21.6" lengthAdjust="spacingAndGlyphs" transform="rotate(0.03 337.5 369.2)" stroke="#1c1c1c" stroke-width="0.32">qPCR</text>
<rect x="436" y="357" width="65.4" height="22.6" fill="#e8e8e8" />
<text x="468.8" y="365.8" font-size="8.0" text-anchor="middle" font-style="italic" textLength="46.4" lengthAdjust="spacingAndGlyphs" transform="rotate(0.03 468.8 365.8)" stroke="#1c1c1c" stroke-width="0.32">Slc2a3/Glut3</text>
<text x="468.8" y="375.8" font-size="8.0" text-anchor="middle" textLength="36.6" lengthAdjust="spacingAndGlyphs" transform="rotate(0.03 468.8 375.8)" stroke="#1c1c1c" stroke-width="0.32">expression</text>
<text x="326" y="525.7" font-size="8.4" textLength="57" lengthAdjust="spacingAndGlyphs" transform="rotate(0.03 326 525.7)" stroke="#1c1c1c" stroke-width="0.32">+ser/gly-ser/gly</text>
<text x="354.2" y="535.9" font-size="8.4" text-anchor="middle" textLength="33.2" lengthAdjust="spacingAndGlyphs" transform="rotate(0.03 354.2 535.9)" stroke="#1c1c1c" stroke-width="0.32">MLLENL</text>
<text x="398.4" y="525.7" font-size="8.4" textLength="27" lengthAdjust="spacingAndGlyphs" transform="rotate(0.03 398.4 525.7)" stroke="#1c1c1c" stroke-width="0.32">-ser/gly</text>
<text x="395" y="535.9" font-size="8.4" textLength="33.4" lengthAdjust="spacingAndGlyphs" transform="rotate(0.03 395 535.9)" stroke="#1c1c1c" stroke-width="0.32">res.clone</text>
<text x="441" y="525.7" font-size="8.4" textLength="57" lengthAdjust="spacingAndGlyphs" transform="rotate(0.03 441 525.7)" stroke="#1c1c1c" stroke-width="0.32">+ser/gly-ser/gly</text>
<text x="446.4" y="535.9" font-size="8.4" textLength="45.6" lengthAdjust="spacingAndGlyphs" transform="rotate(0.03 446.4 535.9)" stroke="#1c1c1c" stroke-width="0.32">primary cells</text>
</g>
<g id="panelE">
<defs><filter id="b1" x="-30%" y="-300%" width="160%" height="700%"><feGaussianBlur stdDeviation="1.8 1.1"/></filter><filter id="b2" x="-30%" y="-300%" width="160%" height="700%"><feGaussianBlur stdDeviation="1.3 0.8"/></filter><filter id="b4" x="-30%" y="-300%" width="160%" height="700%"><feGaussianBlur stdDeviation="1.0 0.6"/></filter><filter id="b3" x="-30%" y="-100%" width="160%" height="300%"><feGaussianBlur stdDeviation="3 3"/></filter><clipPath id="k1"><rect x="54.4" y="512.4" width="109" height="58.6"/></clipPath><clipPath id="k2"><rect x="54.4" y="575" width="109" height="59"/></clipPath><clipPath id="k3"><rect x="165.4" y="512.4" width="65.2" height="58.6"/></clipPath><clipPath id="k4"><rect x="165.4" y="575" width="66.2" height="59"/></clipPath></defs>
<rect x="54.4" y="512.4" width="109" height="58.6" fill="#dedede" />
<rect x="54.4" y="575" width="109" height="59" fill="#dedede" />
<rect x="165.4" y="512.4" width="65.2" height="58.6" fill="#dedede" />
<rect x="165.4" y="575" width="66.2" height="59" fill="#dedede" />
<rect x="94" y="561" width="69.4" height="10" fill="#eeeeee" />
<rect x="94" y="624" width="69.4" height="10" fill="#eeeeee" />
<rect x="166" y="561" width="64.6" height="10" fill="#e5e5e5" />
<rect x="166" y="624" width="65.6" height="10" fill="#eeeeee" />
<g clip-path="url(#k4)"><rect x="165.4" y="575" width="66.2" height="14" fill="#e6e6e6" opacity="0.8" filter="url(#b3)"/><rect x="168" y="611" width="62" height="12" fill="#e8e8e8" opacity="0.8" filter="url(#b3)"/></g>
<g clip-path="url(#k1)"><rect x="64.4" y="542.4" width="22" height="2.6" rx="1.3" fill="#555" opacity="0.3" filter="url(#b1)" transform="rotate(-2 75.4 543.7)"/></g>
<g clip-path="url(#k1)"><rect x="94.5" y="540.8" width="21" height="3.0" rx="1.5" fill="#555" opacity="0.4" filter="url(#b1)" transform="rotate(-1 105 542.3)"/></g>
<g clip-path="url(#k1)"><ellipse cx="135.3" cy="542.2" rx="12.5" ry="2.5" fill="#000" opacity="0.95" filter="url(#b1)" transform="rotate(-3 135.3 542.2)"/></g>
<g clip-path="url(#k1)"><ellipse cx="137.5" cy="541.9" rx="8.5" ry="1.6" fill="#000" opacity="1" filter="url(#b4)" transform="rotate(-3 137.5 541.9)"/></g>
<g clip-path="url(#k1)"><ellipse cx="141.8" cy="541.5" rx="5.0" ry="2.3" fill="#000" opacity="0.9" filter="url(#b4)" transform="rotate(-3 141.8 541.5)"/></g>
<g clip-path="url(#k1)"><ellipse cx="153" cy="540.6" rx="6.5" ry="0.8" fill="#777" opacity="0.22" filter="url(#b1)" transform="rotate(-12 153 540.6)"/></g>
<g clip-path="url(#k2)"><rect x="66.05" y="604.3" width="21.5" height="4.0" rx="2.0" fill="#555" opacity="0.36" filter="url(#b1)" transform="rotate(-1 76.8 606.3)"/></g>
<g clip-path="url(#k2)"><rect x="97.5" y="602.9" width="21" height="4.0" rx="2.0" fill="#555" opacity="0.42" filter="url(#b1)" transform="rotate(-1 108 604.9)"/></g>
<g clip-path="url(#k2)"><rect x="127.1" y="601.5" width="21" height="4.4" rx="2.2" fill="#555" opacity="0.52" filter="url(#b1)" transform="rotate(-1 137.6 603.7)"/></g>
<g clip-path="url(#k3)"><rect x="173.5" y="541.4" width="22" height="3.4" rx="1.7" fill="#555" opacity="0.45" filter="url(#b1)" transform="rotate(0 184.5 543.1)"/></g>
<g clip-path="url(#k3)"><ellipse cx="214.3" cy="542.6" rx="12.5" ry="2.3" fill="#000" opacity="0.95" filter="url(#b1)" transform="rotate(-1.5 214.3 542.6)"/></g>
<g clip-path="url(#k3)"><rect x="205.8" y="541.3" width="18" height="2.4" rx="1.2" fill="#000" opacity="0.9" filter="url(#b4)" transform="rotate(-1.5 214.8 542.5)"/></g>
<g clip-path="url(#k4)"><rect x="174.25" y="601.7" width="24.5" height="5.0" rx="2.5" fill="#222" opacity="0.72" filter="url(#b1)" transform="rotate(0 186.5 604.2)"/></g>
<g clip-path="url(#k4)"><rect x="186.0" y="604.2" width="12" height="2.4" rx="1.2" fill="#111" opacity="0.35" filter="url(#b2)" transform="rotate(0 192 605.4)"/></g>
<g clip-path="url(#k4)"><rect x="203.7" y="602.1" width="25" height="4.4" rx="2.2" fill="#444" opacity="0.55" filter="url(#b1)" transform="rotate(0 216.2 604.3)"/></g>
<rect x="54.4" y="512.4" width="109" height="58.6" fill="none" stroke="#5c5c5c" stroke-width="1.0"/>
<rect x="54.4" y="575" width="109" height="59" fill="none" stroke="#5c5c5c" stroke-width="1.0"/>
<rect x="165.4" y="512.4" width="65.2" height="58.6" fill="none" stroke="#5c5c5c" stroke-width="1.0"/>
<rect x="165.4" y="575" width="66.2" height="59" fill="none" stroke="#5c5c5c" stroke-width="1.0"/>
<line x1="54.4" y1="528.4" x2="58.199999999999996" y2="528.4" stroke="#1a1a1a" stroke-width="1.1" />
<line x1="54.4" y1="547.3" x2="58.199999999999996" y2="547.3" stroke="#1a1a1a" stroke-width="1.1" />
<line x1="54.4" y1="591.4" x2="58.199999999999996" y2="591.4" stroke="#1a1a1a" stroke-width="1.1" />
<line x1="54.4" y1="610.3" x2="58.199999999999996" y2="610.3" stroke="#1a1a1a" stroke-width="1.1" />
<line x1="165.4" y1="528.4" x2="169.20000000000002" y2="528.4" stroke="#1a1a1a" stroke-width="1.1" />
<line x1="165.4" y1="547.3" x2="169.20000000000002" y2="547.3" stroke="#1a1a1a" stroke-width="1.1" />
<line x1="165.4" y1="591.4" x2="169.20000000000002" y2="591.4" stroke="#1a1a1a" stroke-width="1.1" />
<line x1="165.4" y1="610.3" x2="169.20000000000002" y2="610.3" stroke="#1a1a1a" stroke-width="1.1" />
<text x="50.5" y="517.8" font-size="8.7" text-anchor="end" textLength="14.2" lengthAdjust="spacingAndGlyphs" transform="rotate(0.03 50.5 517.8)" stroke="#1c1c1c" stroke-width="0.32">kDa</text>
<text x="50.3" y="531.4" font-size="8.9" text-anchor="end" textLength="10.1" lengthAdjust="spacingAndGlyphs" transform="rotate(0.03 50.3 531.4)" stroke="#1c1c1c" stroke-width="0.32">80</text>
<text x="50.3" y="549.8" font-size="8.9" text-anchor="end" textLength="10.1" lengthAdjust="spacingAndGlyphs" transform="rotate(0.03 50.3 549.8)" stroke="#1c1c1c" stroke-width="0.32">58</text>
<text x="50.5" y="580.8" font-size="8.7" text-anchor="end" textLength="14.2" lengthAdjust="spacingAndGlyphs" transform="rotate(0.03 50.5 580.8)" stroke="#1c1c1c" stroke-width="0.32">kDa</text>
<text x="50.3" y="594.4" font-size="8.9" text-anchor="end" textLength="10.1" lengthAdjust="spacingAndGlyphs" transform="rotate(0.03 50.3 594.4)" stroke="#1c1c1c" stroke-width="0.32">80</text>
<text x="50.3" y="612.8" font-size="8.9" text-anchor="end" textLength="10.1" lengthAdjust="spacingAndGlyphs" transform="rotate(0.03 50.3 612.8)" stroke="#1c1c1c" stroke-width="0.32">58</text>
<text x="99.6" y="569.7" font-size="9.8" font-weight="bold" textLength="58.4" lengthAdjust="spacingAndGlyphs" transform="rotate(0.03 99.6 569.7)">WB:AMPK-<tspan fill="#c8202a">P</tspan></text>
<text x="169.6" y="569.7" font-size="9.8" font-weight="bold" textLength="58.4" lengthAdjust="spacingAndGlyphs" transform="rotate(0.03 169.6 569.7)">WB:AMPK-<tspan fill="#c8202a">P</tspan></text>
<text x="108.4" y="632.8" font-size="9.8" font-weight="bold" textLength="49" lengthAdjust="spacingAndGlyphs" transform="rotate(0.03 108.4 632.8)" stroke="#1c1c1c" stroke-width="0.32">WB:AMPK</text>
<text x="176" y="632.8" font-size="9.8" font-weight="bold" textLength="49" lengthAdjust="spacingAndGlyphs" transform="rotate(0.03 176 632.8)" stroke="#1c1c1c" stroke-width="0.32">WB:AMPK</text>
<text x="76" y="506" font-size="8.4" transform="rotate(-45 76 506)" stroke="#1c1c1c" stroke-width="0.32">+ser/gly</text>
<text x="108.5" y="506" font-size="8.4" transform="rotate(-45 108.5 506)" stroke="#1c1c1c" stroke-width="0.32">-ser/gly</text>
<text x="132.5" y="499" font-size="8.4" transform="rotate(-45 132.5 499)" stroke="#1c1c1c" stroke-width="0.32">0.2mM</text>
<text x="140.3" y="506.7" font-size="8.4" textLength="19" lengthAdjust="spacingAndGlyphs" transform="rotate(-45 140.3 506.7)" stroke="#1c1c1c" stroke-width="0.32">2DG</text>
<text x="180.5" y="506.5" font-size="8.4" transform="rotate(-45 180.5 506.5)" stroke="#1c1c1c" stroke-width="0.32">Control</text>
<text x="215.5" y="499" font-size="8.4" transform="rotate(-45 215.5 499)" stroke="#1c1c1c" stroke-width="0.32">rotenone</text>
<text x="223" y="507" font-size="8.4" transform="rotate(-45 223 507)" stroke="#1c1c1c" stroke-width="0.32">(5nM)</text>
</g>
</svg>
</body>
</html>
